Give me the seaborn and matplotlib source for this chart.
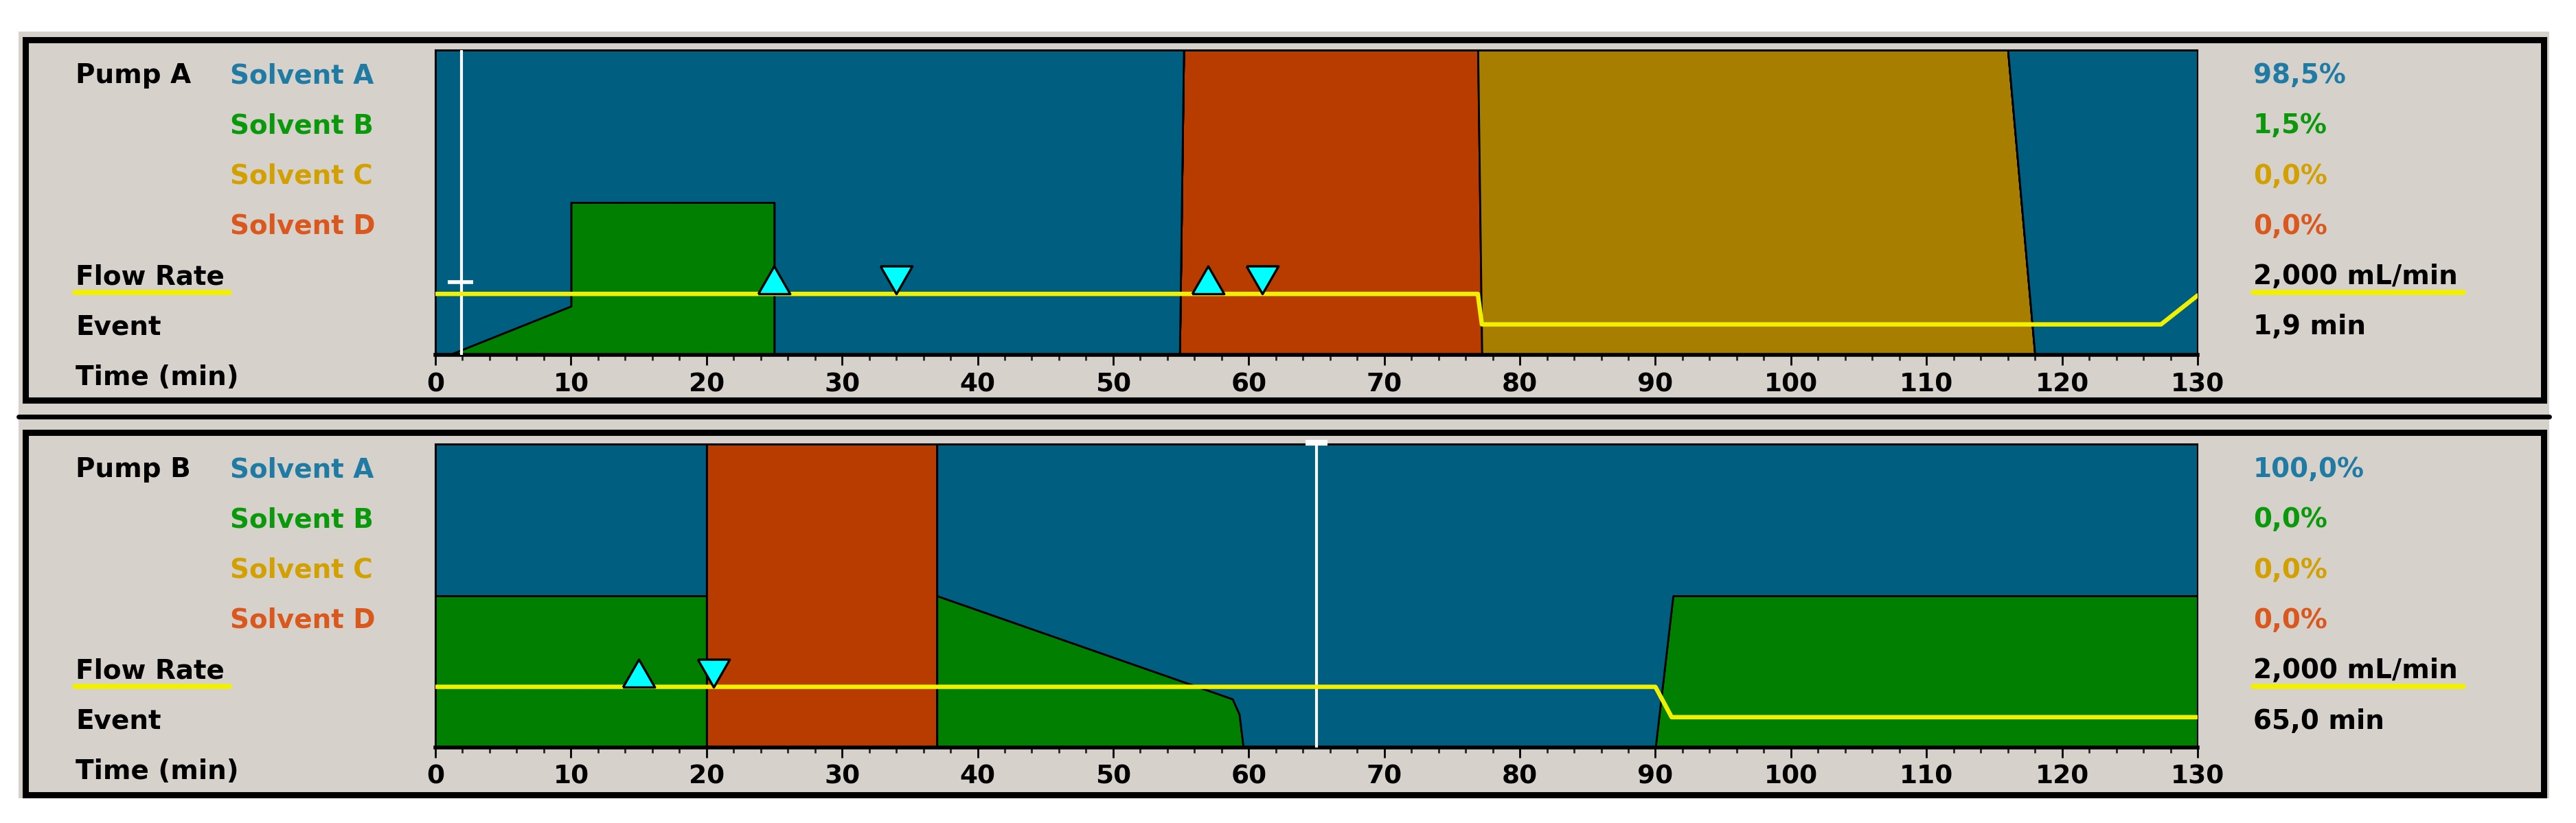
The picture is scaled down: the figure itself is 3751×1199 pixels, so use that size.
import numpy as np
import matplotlib.pyplot as plt
import seaborn as sb
from matplotlib.patches import Rectangle
from matplotlib.lines import Line2D
from matplotlib.ticker import MultipleLocator

sb.set_style("white")
plt.rcParams['font.family'] = ['DejaVu Sans']

# ---- values ----
solvent_names = ['Solvent A', 'Solvent B', 'Solvent C', 'Solvent D']
row_names = ['Flow Rate', 'Event', 'Time (min)']
tick_values = [0, 10, 20, 30, 40, 50, 60, 70, 80, 90, 100, 110, 120, 130]
tick_labels = ['0', '10', '20', '30', '40', '50', '60', '70', '80', '90', '100', '110', '120', '130']

# Pump A: % of each solvent vs time (min)
pa_time = [0, 1.0, 10, 10, 25, 25, 54.9, 55.2, 76.9, 77.2, 116, 118, 130]
pa_a = [100, 100, 84, 50, 50, 100, 100, 0, 0, 0, 0, 100, 100]
pa_b = [0, 0, 16, 50, 50, 0, 0, 0, 0, 0, 0, 0, 0]
pa_c = [0, 0, 0, 0, 0, 0, 0, 0, 0, 100, 100, 0, 0]
pa_d = [0, 0, 0, 0, 0, 0, 0, 100, 100, 0, 0, 0, 0]
pa_flow_time = [0, 76.9, 77.2, 127.3, 130]
pa_flow = [2.0, 2.0, 1.0, 1.0, 1.95]
pa_event_on = [25, 57]
pa_event_off = [34, 61]
pa_cursor = 1.9
pa_readout = ['98,5%', '1,5%', '0,0%', '0,0%', '2,000 mL/min', '1,9 min']

# Pump B
pb_time = [0, 20, 20, 37, 37, 58.8, 59.3, 59.6, 90, 91.3, 130]
pb_a = [50, 50, 0, 0, 50, 84, 89, 100, 100, 50, 50]
pb_b = [50, 50, 0, 0, 50, 16, 11, 0, 0, 50, 50]
pb_c = [0, 0, 0, 0, 0, 0, 0, 0, 0, 0, 0]
pb_d = [0, 0, 100, 100, 0, 0, 0, 0, 0, 0, 0]
pb_flow_time = [0, 90, 91.2, 130]
pb_flow = [2.0, 2.0, 1.0, 1.0]
pb_event_on = [15]
pb_event_off = [20.5]
pb_cursor = 65
pb_readout = ['100,0%', '0,0%', '0,0%', '0,0%', '2,000 mL/min', '65,0 min']

# colours
fill_cols = {'A': '#005E80', 'B': '#007F00', 'C': '#A87E00', 'D': '#B83C00'}
text_cols = ['#1F7BA3', '#0A990A', '#D2A000', '#DA581E']
panel_grey = '#D7D1CB'
flow_yellow = '#F0F000'

W, H = 3751, 1199


def fx(px):
    return px / W


def fy(py):
    return 1 - py / H


fig = plt.figure(figsize=(W / 100, H / 100), dpi=100)
fig.patch.set_facecolor('white')

# grey window background + frames
fig.patches.append(Rectangle((fx(27), fy(1163)), fx(3712) - fx(27), fy(46) - fy(1163),
                             transform=fig.transFigure, facecolor=panel_grey,
                             edgecolor='none', zorder=-5))
for top, bot in [(57.5, 582.5), (629.5, 1158)]:
    fig.patches.append(Rectangle((fx(37), fy(bot)), fx(3704) - fx(37), fy(top) - fy(bot),
                                 transform=fig.transFigure, facecolor='none',
                                 edgecolor='black', linewidth=6.5, zorder=1))
fig.lines.append(Line2D([fx(27), fx(3712)], [fy(606.5), fy(606.5)],
                        transform=fig.transFigure, color='black', linewidth=5))

up_tri = [(-0.575, 0), (0.575, 0), (0, 1), (-0.575, 0)]
down_tri = [(-0.575, 1), (0.575, 1), (0, 0), (-0.575, 1)]


def draw_panel(plot_top, plot_bot, base0, pump, time, a, b, c, d,
               flow_t, flow, ev_on, ev_off, cursor, readout):
    ax = fig.add_axes([fx(634), fy(plot_bot), fx(3200) - fx(634), fy(plot_top) - fy(plot_bot)])
    ax.stackplot(time, d, c, b, a,
                 colors=[fill_cols['D'], fill_cols['C'], fill_cols['B'], fill_cols['A']],
                 edgecolor='black', linewidth=2)
    ax.set_xlim(0, 130)
    ax.set_ylim(0, 100)
    ax.set_yticks([])
    ax.set_xticks(tick_values)
    ax.set_xticklabels(tick_labels, fontsize=27, fontweight='bold')
    ax.xaxis.set_minor_locator(MultipleLocator(2))
    ax.tick_params(axis='x', which='major', direction='out', length=11, width=2,
                   pad=7, bottom=True, colors='black')
    ax.tick_params(axis='x', which='minor', direction='out', length=6, width=2, bottom=True)
    for s in ['top', 'left', 'right']:
        ax.spines[s].set_color('black')
        ax.spines[s].set_linewidth(1.5)
    ax.spines['bottom'].set_color('black')
    ax.spines['bottom'].set_linewidth(4)

    # cursor
    ax.axvline(cursor, color='white', linewidth=3, zorder=5)

    # flow rate on 0-10 mL/min scale
    ax2 = ax.twinx()
    ax2.set_ylim(0, 10)
    ax2.axis('off')
    sb.lineplot(x=flow_t, y=flow, ax=ax2, color=flow_yellow, linewidth=4.6,
                estimator=None, sort=False, zorder=3)
    sb.scatterplot(x=ev_on, y=np.interp(ev_on, flow_t, flow), ax=ax2, marker=up_tri,
                   s=3400, color='#00FFFF', edgecolor='black', linewidth=2.4, zorder=6)
    sb.scatterplot(x=ev_off, y=np.interp(ev_off, flow_t, flow), ax=ax2, marker=down_tri,
                   s=3400, color='#00FFFF', edgecolor='black', linewidth=2.4, zorder=6)

    # left labels
    rows = [base0 + 73.3 * i for i in range(7)]
    fig.text(fx(110), fy(rows[0]), pump, fontsize=28, fontweight='bold', color='black',
             va='baseline')
    for i, name in enumerate(solvent_names):
        fig.text(fx(335), fy(rows[i]), name, fontsize=28, fontweight='bold',
                 color=text_cols[i], va='baseline')
    for j, name in enumerate(row_names):
        fig.text(fx(110), fy(rows[4 + j]), name, fontsize=28, fontweight='bold',
                 color='black', va='baseline')
    fig.lines.append(Line2D([fx(109), fx(334)], [fy(rows[4] + 12)] * 2,
                            transform=fig.transFigure, color=flow_yellow, linewidth=5.5))

    # right readout
    for i, val in enumerate(readout):
        col = text_cols[i] if i < 4 else 'black'
        fig.text(fx(3281), fy(rows[i]), val, fontsize=28, fontweight='bold', color=col,
                 va='baseline')
    fig.lines.append(Line2D([fx(3281), fx(3587)], [fy(rows[4] + 12)] * 2,
                            transform=fig.transFigure, color=flow_yellow, linewidth=5.5))
    return ax, ax2


ax_a, ax_a2 = draw_panel(73, 517, 121, 'Pump A', pa_time, pa_a, pa_b, pa_c, pa_d,
                         pa_flow_time, pa_flow, pa_event_on, pa_event_off, pa_cursor, pa_readout)
# small crosshair mark of the cursor
ax_a.plot([pa_cursor - 1.0, pa_cursor + 0.9], [23.8, 23.8], color='white', linewidth=4,
          zorder=6, solid_capstyle='butt')

ax_b, ax_b2 = draw_panel(647, 1089, 695, 'Pump B', pb_time, pb_a, pb_b, pb_c, pb_d,
                         pb_flow_time, pb_flow, pb_event_on, pb_event_off, pb_cursor, pb_readout)
ax_b.plot([pb_cursor - 0.8, pb_cursor + 0.8], [100.5, 100.5], color='white', linewidth=6,
          zorder=6, clip_on=False, solid_capstyle='butt')

fig.savefig('out.png', dpi=100)
